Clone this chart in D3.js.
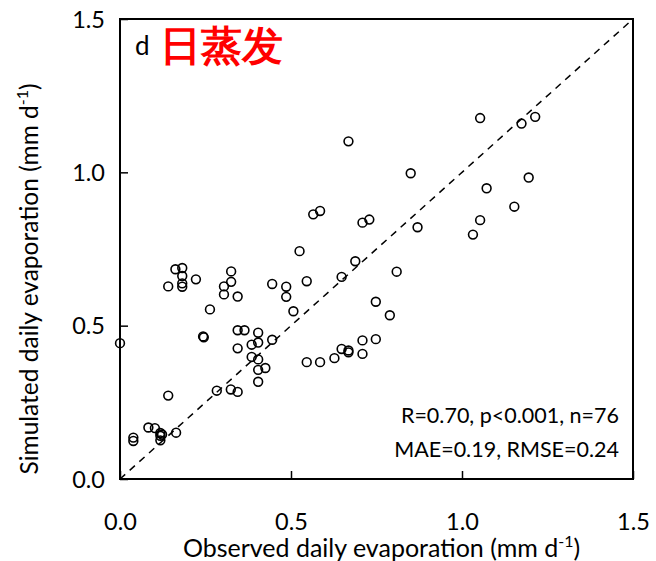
<!DOCTYPE html>
<html>
<head>
<meta charset="utf-8">
<script src="https://cdn.jsdelivr.net/npm/d3@7"></script>
<style>
  html, body { margin: 0; padding: 0; background: #fff; }
  svg { display: block; }
  text { font-family: Lato, "Open Sans", sans-serif; fill: #000; }
</style>
</head>
<body>
<svg id="chart" width="656" height="561"></svg>
<script>
// Observed vs simulated daily evaporation (mm d-1)
const observed = [
  0.000, 0.039, 0.039, 0.083, 0.102, 0.118, 0.118, 0.118, 0.123, 0.164,
  0.141, 0.141, 0.162, 0.182, 0.182, 0.182, 0.182, 0.222, 0.243, 0.245,
  0.263, 0.283, 0.304, 0.304, 0.325, 0.325, 0.324, 0.344, 0.344, 0.364,
  0.344, 0.344, 0.385, 0.385, 0.404, 0.404, 0.404, 0.404, 0.404, 0.425,
  0.445, 0.445, 0.486, 0.486, 0.507, 0.525, 0.546, 0.546, 0.565, 0.585,
  0.585, 0.627, 0.648, 0.648, 0.668, 0.668, 0.668, 0.688, 0.709, 0.729,
  0.709, 0.709, 0.748, 0.748, 0.789, 0.809, 0.850, 0.870, 1.032, 1.053,
  1.053, 1.072, 1.153, 1.174, 1.195, 1.214
];
const simulated = [
  0.443, 0.135, 0.124, 0.168, 0.166, 0.150, 0.141, 0.126, 0.145, 0.151,
  0.272, 0.628, 0.684, 0.688, 0.662, 0.638, 0.627, 0.651, 0.465, 0.462,
  0.553, 0.288, 0.628, 0.602, 0.677, 0.643, 0.292, 0.595, 0.485, 0.485,
  0.426, 0.284, 0.438, 0.398, 0.477, 0.445, 0.390, 0.356, 0.317, 0.362,
  0.454, 0.636, 0.627, 0.594, 0.547, 0.743, 0.645, 0.381, 0.863, 0.874,
  0.381, 0.394, 0.659, 0.424, 0.419, 0.413, 1.101, 0.710, 0.836, 0.846,
  0.452, 0.408, 0.578, 0.456, 0.534, 0.676, 0.997, 0.821, 0.797, 0.844,
  1.177, 0.948, 0.888, 1.159, 0.983, 1.181
];
const tickValues = [0, 0.5, 1.0, 1.5];
const statsLines = ["R=0.70, p<0.001, n=76", "MAE=0.19, RMSE=0.24"];

const svg = d3.select("#chart");
const margin = { left: 120, top: 19, right: 23, bottom: 82 };
const W = 656, H = 561;
const plotW = W - margin.left - margin.right;
const plotH = H - margin.top - margin.bottom;

const x = d3.scaleLinear().domain([0, 1.5]).range([0, plotW]);
const y = d3.scaleLinear().domain([0, 1.5]).range([plotH, 0]);

const g = svg.append("g").attr("transform", `translate(${margin.left},${margin.top})`);

// 1:1 reference line
g.append("line")
  .attr("x1", x(0)).attr("y1", y(0))
  .attr("x2", x(1.5)).attr("y2", y(1.5))
  .attr("stroke", "#000").attr("stroke-width", 1.5)
  .attr("stroke-dasharray", "7,6");

// Points
const pts = observed.map((v, i) => ({ o: v, s: simulated[i] }));
g.append("g").selectAll("circle").data(pts).join("circle")
  .attr("cx", d => x(d.o)).attr("cy", d => y(d.s))
  .attr("r", 4.4)
  .attr("fill", "none").attr("stroke", "#000").attr("stroke-width", 1.6);

// Axes: inward ticks, labels placed separately
const fmt = d3.format(".1f");
const xAxis = g.append("g").attr("transform", `translate(0,${plotH})`)
  .call(d3.axisBottom(x).tickValues(tickValues).tickSize(-8).tickFormat(fmt).tickPadding(34));
const yAxis = g.append("g")
  .call(d3.axisLeft(y).tickValues(tickValues).tickSize(-8).tickFormat(fmt).tickPadding(15));
[xAxis, yAxis].forEach(a => {
  a.select(".domain").remove();
  a.selectAll(".tick line").attr("stroke", "#000").attr("stroke-width", 1.5);
  a.selectAll(".tick text").attr("font-family", "Lato, sans-serif").attr("font-size", 23.5).attr("fill", "#000");
});
yAxis.selectAll(".tick text").attr("dy", "0.35em");

// Frame
g.append("rect")
  .attr("x", 0).attr("y", 0).attr("width", plotW).attr("height", plotH)
  .attr("fill", "none").attr("stroke", "#000").attr("stroke-width", 2);

// Panel letter and title
g.append("text").attr("x", 15).attr("y", 36).attr("font-size", 26).text("d");
g.append("text").attr("x", 40).attr("y", 41)
  .attr("font-family", "'Noto Sans CJK SC', sans-serif")
  .attr("font-weight", "bold").attr("font-size", 41).style("fill", "#ff0000")
  .text("日蒸发");

// Statistics
g.append("g").selectAll("text").data(statsLines).join("text")
  .attr("x", plotW - 14).attr("y", (d, i) => 404 + i * 34)
  .attr("text-anchor", "end").attr("font-size", 21.5).text(d => d);

// Axis titles
const xt = svg.append("text").attr("x", margin.left + plotW / 2 + 5).attr("y", 557)
  .attr("text-anchor", "middle").attr("font-size", 25);
xt.append("tspan").text("Observed daily evaporation (mm d");
xt.append("tspan").attr("font-size", 16).attr("dy", -10).text("-1");
xt.append("tspan").attr("dy", 10).text(")");

const yt = svg.append("text")
  .attr("transform", `translate(38,${margin.top + plotH / 2 + 30}) rotate(-90)`)
  .attr("text-anchor", "middle").attr("font-size", 24.5);
yt.append("tspan").text("Simulated daily evaporation (mm d");
yt.append("tspan").attr("font-size", 16).attr("dy", -10).text("-1");
yt.append("tspan").attr("dy", 10).text(")");
</script>
</body>
</html>
